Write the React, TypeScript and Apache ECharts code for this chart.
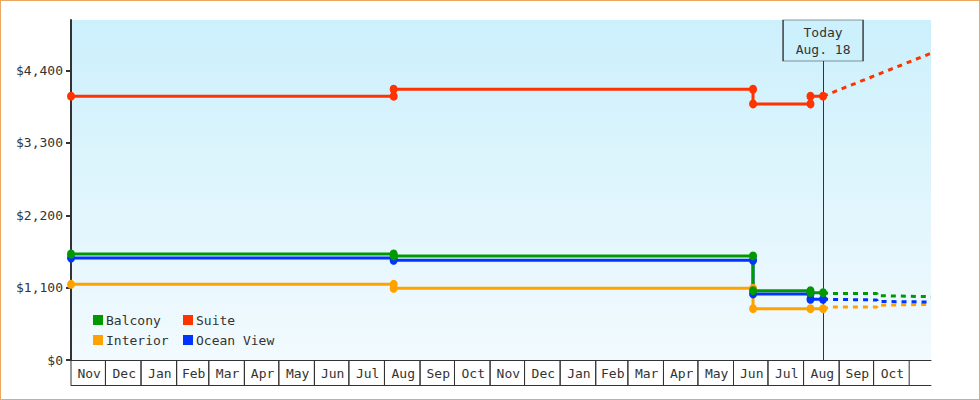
import React, { useEffect, useRef } from "react";
import * as echarts from "echarts";

// ---- data ----
const AXIS_START = "2021-11-01";
const AXIS_END = "2023-11-20";
const MONTH_LABELS = [
  "Nov", "Dec", "Jan", "Feb", "Mar", "Apr", "May", "Jun", "Jul", "Aug", "Sep", "Oct",
  "Nov", "Dec", "Jan", "Feb", "Mar", "Apr", "May", "Jun", "Jul", "Aug", "Sep", "Oct",
];
const Y_TICKS = [0, 1100, 2200, 3300, 4400];
const Y_MAX = 5170;

const TODAY = "2023-08-18";
const TODAY_LABEL = "Today\nAug. 18";
const TODAY_LINE_TOP = 4550;

const BALCONY: [string, number][] = [
  ["2021-11-01", 1612], ["2022-08-09", 1612], ["2022-08-09", 1582], ["2023-06-18", 1582],
  ["2023-06-18", 1054], ["2023-08-07", 1054], ["2023-08-07", 1024], ["2023-08-18", 1024],
];
const OCEAN_VIEW: [string, number][] = [
  ["2021-11-01", 1551], ["2022-08-09", 1551], ["2022-08-09", 1516], ["2023-06-18", 1516],
  ["2023-06-18", 1004], ["2023-08-07", 1004], ["2023-08-07", 923], ["2023-08-18", 923],
];
const INTERIOR: [string, number][] = [
  ["2021-11-01", 1151], ["2022-08-09", 1151], ["2022-08-09", 1090], ["2023-06-18", 1090],
  ["2023-06-18", 780], ["2023-08-07", 780], ["2023-08-18", 780],
];
const SUITE: [string, number][] = [
  ["2021-11-01", 4011], ["2022-08-09", 4011], ["2022-08-09", 4117], ["2023-06-18", 4117],
  ["2023-06-18", 3894], ["2023-08-07", 3894], ["2023-08-07", 4011], ["2023-08-18", 4011],
];

const BALCONY_FORECAST: [string, number][] = [
  ["2023-08-18", 1024], ["2023-08-25", 1011], ["2023-10-04", 1011], ["2023-10-04", 978], ["2023-11-20", 963],
];
const OCEAN_VIEW_FORECAST: [string, number][] = [
  ["2023-08-18", 923], ["2023-10-04", 913], ["2023-10-04", 890], ["2023-11-20", 882],
];
const INTERIOR_FORECAST: [string, number][] = [
  ["2023-08-18", 780], ["2023-08-25", 806], ["2023-10-04", 806], ["2023-10-04", 832], ["2023-11-20", 847],
];
const SUITE_FORECAST: [string, number][] = [
  ["2023-08-18", 4011], ["2023-11-20", 4664],
];

const COLORS = {
  Balcony: "#009900",
  Suite: "#ff3300",
  Interior: "#ffa200",
  "Ocean View": "#0033ff",
};

const FONT = "DejaVu Sans Mono";
const TEXT_COLOR = "#333";

const t = (s: string) => new Date(s + "T00:00:00").getTime();
const toPts = (arr: [string, number][]) => arr.map(([d, v]) => [t(d), v]);

function monthStrip() {
  const start = new Date(AXIS_START + "T00:00:00");
  return MONTH_LABELS.map((_, i) => {
    const s = new Date(start.getFullYear(), start.getMonth() + i, 1).getTime();
    const e = new Date(start.getFullYear(), start.getMonth() + i + 1, 1).getTime();
    return [s, e, 0];
  });
}

export default function App() {
  const ref = useRef<HTMLDivElement>(null);

  useEffect(() => {
    if (!ref.current) return;
    const chart = echarts.init(ref.current, null, { renderer: "svg" });

    const solid = (name: keyof typeof COLORS, data: [string, number][], extra: any = {}) => ({
      type: "line",
      name,
      data: toPts(data),
      symbol: "circle",
      symbolSize: [8, 9],
      showSymbol: true,
      lineStyle: { color: COLORS[name], width: 3 },
      itemStyle: { color: COLORS[name] },
      z: 3,
      ...extra,
    });
    const dashed = (name: keyof typeof COLORS, data: [string, number][]) => ({
      type: "line",
      name,
      data: toPts(data),
      symbol: "none",
      showSymbol: false,
      lineStyle: { color: COLORS[name], width: 3, type: [5, 5] },
      itemStyle: { color: COLORS[name] },
      z: 2,
    });

    const legendBase = {
      orient: "vertical",
      top: 313,
      padding: 0,
      itemWidth: 10,
      itemHeight: 10,
      itemGap: 6,
      icon: "rect",
      itemStyle: { borderWidth: 0 },
      textStyle: { fontFamily: FONT, fontSize: 13, color: TEXT_COLOR, lineHeight: 14, padding: [0, 0, 0, -2] },
    };

    const option: any = {
      animation: false,
      textStyle: { fontFamily: FONT },
      grid: {
        left: 71,
        right: 49,
        top: 20,
        bottom: 40,
        show: true,
        borderWidth: 0,
        backgroundColor: new echarts.graphic.LinearGradient(0, 0, 0, 1, [
          { offset: 0, color: "#ccf0fc" },
          { offset: 1, color: "#f2fafe" },
        ]),
      },
      legend: [
        { ...legendBase, data: ["Balcony", "Interior"], left: 93 },
        { ...legendBase, data: ["Suite", "Ocean View"], left: 183 },
      ],
      xAxis: [
        {
          type: "time",
          min: t(AXIS_START),
          max: t(AXIS_END),
          axisLine: { show: true, lineStyle: { color: TEXT_COLOR, width: 1 } },
          axisTick: { show: false },
          axisLabel: { show: false },
          splitLine: { show: false },
        },
        {
          type: "time",
          min: t(AXIS_START),
          max: t(AXIS_END),
          position: "bottom",
          offset: 25,
          axisLine: { show: true, lineStyle: { color: TEXT_COLOR, width: 1 } },
          axisTick: { show: false },
          axisLabel: { show: false },
          splitLine: { show: false },
        },
      ],
      yAxis: {
        type: "value",
        min: 0,
        max: Y_MAX,
        axisLine: { show: true, lineStyle: { color: TEXT_COLOR, width: 2 } },
        axisTick: { show: true, length: 5, lineStyle: { color: TEXT_COLOR, width: 2 }, customValues: Y_TICKS },
        axisLabel: {
          customValues: Y_TICKS,
          margin: 8,
          fontFamily: FONT,
          fontSize: 13,
          color: TEXT_COLOR,
          formatter: (v: number) => "$" + v.toLocaleString("en-US"),
        },
        splitLine: { show: false },
      },
      series: [
        {
          type: "custom",
          coordinateSystem: "cartesian2d",
          xAxisIndex: 0,
          clip: false,
          silent: true,
          dimensions: [
            { name: "s", type: "time" },
            { name: "e", type: "time" },
            { name: "y", type: "number" },
          ],
          encode: { x: [0, 1], y: 2 },
          data: monthStrip(),
          renderItem: (params: any, api: any) => {
            const p0 = api.coord([api.value(0), 0]);
            const p1 = api.coord([api.value(1), 0]);
            const y = p0[1];
            return {
              type: "group",
              children: [
                { type: "line", shape: { x1: p0[0], y1: y, x2: p0[0], y2: y + 25 }, style: { stroke: TEXT_COLOR, lineWidth: 1 } },
                { type: "line", shape: { x1: p1[0], y1: y, x2: p1[0], y2: y + 25 }, style: { stroke: TEXT_COLOR, lineWidth: 1 } },
                {
                  type: "text",
                  style: {
                    text: MONTH_LABELS[params.dataIndex],
                    x: (p0[0] + p1[0]) / 2 + 1,
                    y: y + 13,
                    align: "center",
                    verticalAlign: "middle",
                    fontFamily: FONT,
                    fontSize: 13,
                    fill: TEXT_COLOR,
                  },
                },
              ],
            };
          },
        },
        dashed("Interior", INTERIOR_FORECAST),
        dashed("Ocean View", OCEAN_VIEW_FORECAST),
        dashed("Balcony", BALCONY_FORECAST),
        dashed("Suite", SUITE_FORECAST),
        solid("Interior", INTERIOR),
        solid("Ocean View", OCEAN_VIEW),
        solid("Balcony", BALCONY),
        solid("Suite", SUITE, {
          markLine: {
            silent: true,
            symbol: ["none", "none"],
            z: 1,
            label: { show: false },
            lineStyle: { color: TEXT_COLOR, width: 1, type: "solid" },
            data: [[{ coord: [t(TODAY), 0] }, { coord: [t(TODAY), TODAY_LINE_TOP] }]],
          },
          markPoint: {
            silent: true,
            z: 10,
            symbol: "rect",
            symbolSize: [80, 41],
            symbolOffset: [0, 20.5],
            itemStyle: { color: "#ccf0fc", borderColor: TEXT_COLOR, borderWidth: 1 },
            label: {
              show: true,
              position: "inside",
              formatter: TODAY_LABEL,
              fontFamily: FONT,
              fontSize: 13,
              lineHeight: 17,
              color: TEXT_COLOR,
            },
            data: [{ coord: [t(TODAY), Y_MAX] }],
          },
        }),
      ],
    };

    chart.setOption(option);
    return () => chart.dispose();
  }, []);

  return (
    <div style={{ position: "fixed", left: 0, top: 0, width: 980, height: 400, background: "#fff" }}>
      <div ref={ref} style={{ position: "absolute", left: 0, top: 0, width: 980, height: 400 }} />
      <div
        style={{
          position: "absolute",
          left: 0,
          top: 0,
          width: 980,
          height: 400,
          boxSizing: "border-box",
          border: "1px solid #e9a963",
          pointerEvents: "none",
        }}
      />
    </div>
  );
}
